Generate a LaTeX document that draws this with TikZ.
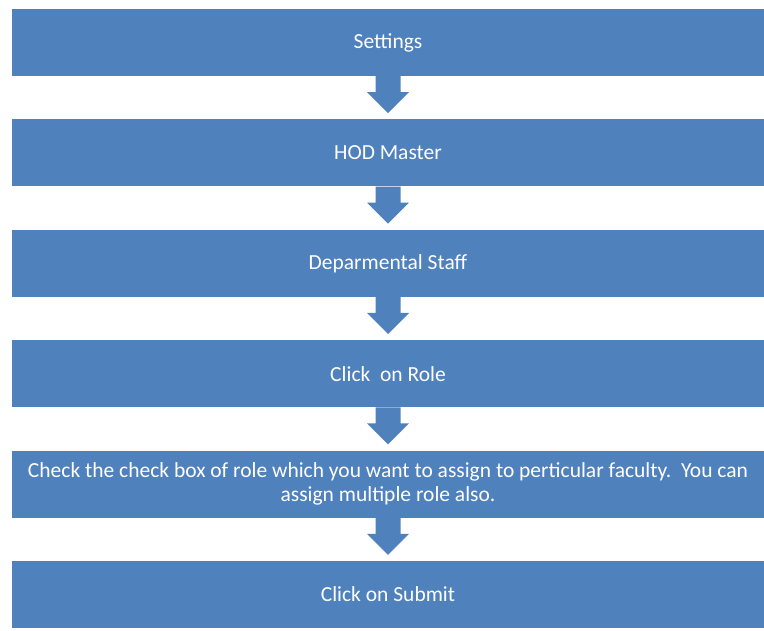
\documentclass[tikz,border=0pt]{standalone}
\usepackage{fontspec}
\setmainfont{Carlito}
\usetikzlibrary{positioning}

\definecolor{stepblue}{HTML}{4F81BD}

\tikzset{
  stepbox/.style={fill=stepblue, text=white, minimum width=752pt, minimum height=67pt,
    inner sep=0pt, align=center, font=\fontsize{21.5}{23.5}\selectfont},
  flowfill/.style={fill=stepblue}
}

% down arrow between two boxes
\newcommand{\flowarrow}[2]{%
  \fill[flowfill] ([xshift=-12.5pt]#1.south) -- ([xshift=-12.5pt,yshift=27pt]#2.north)
    -- ([xshift=-21pt,yshift=27pt]#2.north) -- ([yshift=6pt]#2.north)
    -- ([xshift=21pt,yshift=27pt]#2.north) -- ([xshift=12.5pt,yshift=27pt]#2.north)
    -- ([xshift=12.5pt]#1.south) -- cycle;}

\begin{document}
\begin{tikzpicture}[x=1pt,y=-1pt, node distance=43pt]
  \useasboundingbox (0,0) rectangle (764,631);

  \node[stepbox] (settings) at (388,42.5) {Settings};
  \node[stepbox, below=of settings] (hod) {HOD Master};
  \node[stepbox, below=of hod] (staff) {Deparmental Staff};
  \node[stepbox, below=of staff] (role) {Click\ \ on Role};
  \node[stepbox, below=of role] (check) {Check the check box of role which you want to assign to perticular faculty.\ \ You can\\assign multiple role also.};
  \node[stepbox, below=of check] (submit) {Click on Submit};

  \flowarrow{settings}{hod}
  \flowarrow{hod}{staff}
  \flowarrow{staff}{role}
  \flowarrow{role}{check}
  \flowarrow{check}{submit}
\end{tikzpicture}
\end{document}
